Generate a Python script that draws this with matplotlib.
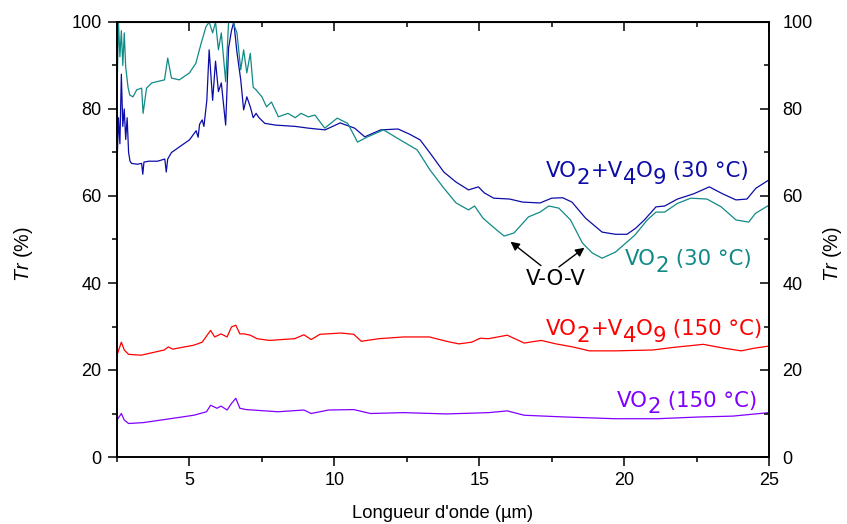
import matplotlib
matplotlib.use("Agg")
import matplotlib.pyplot as plt
from matplotlib.ticker import MultipleLocator

plt.rcParams['font.family'] = ['Liberation Sans', 'DejaVu Sans']
plt.rcParams['mathtext.fontset'] = 'custom'
plt.rcParams['mathtext.rm'] = 'Liberation Sans'
plt.rcParams['mathtext.it'] = 'Liberation Sans:italic'

# ---- data ----
x_mix30 = [2.50, 2.55, 2.60, 2.65, 2.70, 2.75, 2.80, 2.85, 2.90, 2.95,
           3.00, 3.20, 3.35, 3.39, 3.43, 3.60, 3.90, 4.15, 4.20, 4.25,
           4.38, 4.70, 5.00, 5.23, 5.30, 5.35, 5.44, 5.50, 5.60, 5.68,
           5.80, 5.90, 6.00, 6.10, 6.25, 6.35, 6.45, 6.53, 6.64, 6.77,
           6.87, 6.98, 7.10, 7.20, 7.30, 7.40, 7.60, 7.97, 8.65, 9.10,
           9.68, 10.2, 10.7, 11.05, 11.6, 12.2, 12.6, 12.96, 13.3, 13.78,
           14.2, 14.63, 14.97, 15.18, 15.5, 16.05, 16.5, 17.1, 17.5, 17.88,
           18.2, 18.67, 19.24, 19.7, 20.1, 20.4, 20.7, 21.1, 21.4, 21.84,
           22.4, 22.94, 23.4, 23.86, 24.24, 24.55, 25.0]
y_mix30 = [66.7, 78, 72, 88, 76, 80, 73, 78, 70, 68,
           67.5, 67.3, 67.5, 65, 67.8, 68, 68, 68.5, 65.5, 68.5,
           70, 71.5, 72.9, 75, 73.5, 76.5, 77.5, 76, 82, 93.6,
           82, 91, 84, 86, 76.3, 94, 98, 100, 93, 86.7,
           79.8, 82.8, 80.5, 78, 79, 78, 76.7, 76.3, 76, 75.6,
           75.2, 76.8, 75.6, 73.6, 75.2, 75.4, 74.2, 72.9, 69.9, 65.5,
           63.2, 61.4, 62.1, 60.7, 59.5, 59.3, 58.6, 58.4, 59.5, 59.6,
           58.6, 54.9, 51.7, 51.2, 51.2, 52.6, 54.5, 57.5, 57.7, 59.3,
           60.5, 62.1, 60.5, 59.1, 59.3, 61.8, 63.7]

x_vo230 = [2.50, 2.55, 2.60, 2.65, 2.70, 2.75, 2.80, 2.88, 2.94, 3.05,
           3.18, 3.35, 3.40, 3.52, 3.70, 4.14, 4.25, 4.38, 4.65, 5.00,
           5.22, 5.40, 5.57, 5.68, 5.80, 5.90, 6.00, 6.10, 6.25, 6.35,
           6.50, 6.64, 6.77, 6.87, 6.98, 7.10, 7.20, 7.30, 7.50, 7.66,
           7.83, 8.07, 8.40, 8.65, 8.85, 9.10, 9.33, 9.67, 10.1, 10.46,
           10.8, 11.15, 11.7, 12.17, 12.86, 13.3, 13.78, 14.2, 14.63, 14.84,
           15.13, 15.6, 15.86, 16.2, 16.7, 17.1, 17.4, 17.75, 18.15, 18.56,
           18.9, 19.24, 19.7, 20.37, 20.8, 21.1, 21.4, 21.84, 22.3, 22.86,
           23.35, 23.86, 24.3, 24.53, 25.0]
y_vo230 = [82.8, 100, 92, 98, 90, 97.5, 89.7, 85, 83.2, 82.8,
           84.4, 84.8, 79, 84.8, 86, 86.7, 91.7, 87.1, 86.7, 88.3,
           90.5, 95, 98.9, 100, 97.5, 100, 93.6, 97.5, 86.3, 100,
           100, 97.5, 89, 93.6, 88.3, 92.8, 85, 84.4, 82.8, 80.5,
           81.6, 78.2, 79, 78, 79, 78.2, 78.6, 75.6, 77.9, 76.7,
           72.4, 73.6, 75.2, 73.3, 70.6, 66, 61.8, 58.4, 56.8, 57.7,
           54.9, 52.2, 50.8, 51.5, 55.2, 56.3, 57.7, 57.2, 54.5, 49.2,
           46.9, 45.7, 47.1, 51, 54.5, 56.3, 56.3, 58.3, 59.5, 59.3,
           57.5, 54.5, 54, 56, 57.9]

x_mix150 = [2.50, 2.65, 2.75, 2.90, 3.33, 4.13, 4.27, 4.42, 5.15, 5.44,
            5.73, 5.87, 6.09, 6.30, 6.45, 6.60, 6.74, 6.89, 7.10, 7.33,
            7.76, 8.63, 8.95, 9.20, 9.50, 10.23, 10.67, 10.93, 11.54, 12.4,
            13.28, 13.87, 14.3, 14.74, 15.03, 15.32, 15.97, 16.55, 17.14, 17.65,
            18.23, 18.8, 19.68, 20.99, 21.71, 22.73, 23.46, 24.04, 24.48, 25.0]
y_mix150 = [23.4, 26.4, 24.6, 23.6, 23.4, 24.6, 25.3, 24.8, 25.7, 26.4,
            29.1, 27.6, 28.3, 27.6, 29.9, 30.3, 28.3, 28.3, 28, 27.2,
            26.8, 27.2, 28.1, 27, 28.2, 28.5, 28.2, 26.6, 27.2, 27.6,
            27.6, 26.6, 26, 26.4, 27.3, 27.2, 28, 26.2, 26.8, 26,
            25.3, 24.4, 24.4, 24.6, 25.2, 25.9, 25, 24.4, 25, 25.5]

x_vo2150 = [2.50, 2.65, 2.75, 2.90, 3.40, 4.13, 5.15, 5.59, 5.73, 5.95,
            6.09, 6.30, 6.45, 6.60, 6.74, 6.96, 7.18, 8.05, 8.95, 9.20,
            9.80, 10.67, 11.25, 12.4, 13.87, 15.32, 15.97, 16.55, 17.94, 19.68,
            21.13, 22.59, 23.75, 25.0]
y_vo2150 = [8.5, 10, 8.5, 7.7, 7.9, 8.6, 9.6, 10.4, 11.9, 11.2,
            11.7, 10.8, 12.3, 13.5, 11.2, 10.9, 10.8, 10.4, 10.8, 10,
            10.8, 10.9, 10, 10.2, 9.9, 10.2, 10.6, 9.6, 9.2, 8.8,
            8.8, 9.2, 9.4, 10.2]

# curve labels as (text, is_subscript) pieces
label_mix30 = [('VO', False), ('2', True), ('+V', False), ('4', True), ('O', False), ('9', True), (' (30 °C)', False)]
label_vo230 = [('VO', False), ('2', True), (' (30 °C)', False)]
label_mix150 = [('VO', False), ('2', True), ('+V', False), ('4', True), ('O', False), ('9', True), (' (150 °C)', False)]
label_vo2150 = [('VO', False), ('2', True), (' (150 °C)', False)]
colors = ['#0c0ca8', '#108a86', '#ff0000', '#8000ff']
x_ticks = [5, 10, 15, 20, 25]
y_ticks = [0, 20, 40, 60, 80, 100]

LABEL_FONT = ['DejaVu Sans']
LABEL_FS = 15.3
SUB_SHIFT = 5.0  # points


def chain_label(ax, x, y, pieces, color):
    prev = ax.text(x, y, pieces[0][0], color=color, fontsize=LABEL_FS,
                   family=LABEL_FONT, ha='left', va='baseline')
    prev_shift = -SUB_SHIFT if pieces[0][1] else 0.0
    for s, sub in pieces[1:]:
        shift = -SUB_SHIFT if sub else 0.0
        prev = ax.annotate(s, xy=(1, 0), xycoords=prev,
                           xytext=(0, shift - prev_shift), textcoords='offset points',
                           color=color, fontsize=LABEL_FS, family=LABEL_FONT,
                           ha='left', va='bottom')
        prev_shift = shift


# ---- figure ----
fig = plt.figure(figsize=(8.47, 5.24), dpi=100)
ax = fig.add_axes([117/847, 67/524, 652/847, 435/524])

series = [(x_mix30, y_mix30), (x_vo230, y_vo230), (x_mix150, y_mix150), (x_vo2150, y_vo2150)]
for (xs, ys), c in zip(series, colors):
    ax.plot(xs, ys, color=c, lw=0.9)

ax.set_xlim(2.5, 25)
ax.set_ylim(0, 100)
ax.set_xticks(x_ticks)
ax.set_yticks(y_ticks)
ax.xaxis.set_minor_locator(MultipleLocator(2.5))
ax.yaxis.set_minor_locator(MultipleLocator(10))
for s in ax.spines.values():
    s.set_linewidth(1.2)

ax.tick_params(axis='x', which='both', direction='out', top=False, labelsize=13, pad=4, width=1.1)
ax.tick_params(axis='y', which='both', direction='out', labelsize=13, pad=4.5, width=1.1)
ax.tick_params(which='major', length=6.5)
ax.tick_params(which='minor', length=3.5)

# top ticks (inward, no labels)
axt = ax.secondary_xaxis('top')
axt.set_xticks(x_ticks)
axt.xaxis.set_minor_locator(MultipleLocator(2.5))
axt.tick_params(which='both', direction='in', labeltop=False, width=1.1)
axt.tick_params(which='major', length=6.5)
axt.tick_params(which='minor', length=3.5)

# right axis
axr = ax.twinx()
axr.set_ylim(0, 100)
axr.set_yticks(y_ticks)
axr.yaxis.set_minor_locator(MultipleLocator(10))
axr.tick_params(which='both', direction='in', labelsize=13, pad=9.5, width=1.1)
axr.tick_params(which='major', length=6.5)
axr.tick_params(which='minor', length=3.5)
axr.set_ylabel(r'$\mathit{Tr}$ (%)', fontsize=14.2)
axr.yaxis.set_label_coords(1.079, 0.467)
for s in axr.spines.values():
    s.set_linewidth(1.2)

ax.set_xlabel("Longueur d'onde (µm)", fontsize=13.2, labelpad=12)
ax.set_ylabel(r'$\mathit{Tr}$ (%)', fontsize=14.2)
ax.yaxis.set_label_coords(-0.126, 0.467)

# curve labels
chain_label(ax, 17.3, 64.4, label_mix30, colors[0])
chain_label(ax, 20.03, 44.1, label_vo230, colors[1])
chain_label(ax, 17.3, 28.0, label_mix150, colors[2])
chain_label(ax, 19.75, 11.6, label_vo2150, colors[3])

ax.text(17.64, 39.5, 'V-O-V', color='black', fontsize=LABEL_FS, family=LABEL_FONT,
        ha='center', va='baseline')
ax.annotate('', xy=(16.08, 49.5), xytext=(17.13, 44.0),
            arrowprops=dict(arrowstyle='-|>', color='black', lw=1.0, mutation_scale=13,
                            shrinkA=0, shrinkB=0))
ax.annotate('', xy=(18.63, 48.1), xytext=(17.75, 43.7),
            arrowprops=dict(arrowstyle='-|>', color='black', lw=1.0, mutation_scale=13,
                            shrinkA=0, shrinkB=0))

fig.savefig('out.png', dpi=100)
